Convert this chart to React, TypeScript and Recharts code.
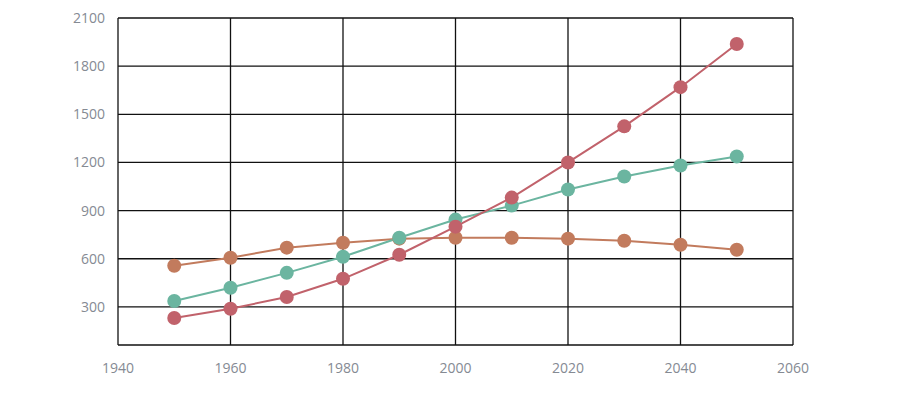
import { LineChart, Line, XAxis, YAxis, CartesianGrid } from "recharts";

const years = [1950, 1960, 1970, 1980, 1990, 2000, 2010, 2020, 2030, 2040, 2050];
const redSeries = [231, 288, 362, 475, 625, 800, 981, 1200, 1425, 1669, 1938];
const tealSeries = [337, 419, 512, 612, 731, 844, 931, 1031, 1112, 1181, 1237];
const orangeSeries = [556, 606, 669, 700, 725, 731, 731, 725, 712, 687, 656];
const xTicks = [1940, 1960, 1980, 2000, 2020, 2040, 2060];
const yTicks = [300, 600, 900, 1200, 1500, 1800, 2100];

const data = years.map((year, i) => ({
  year,
  red: redSeries[i],
  teal: tealSeries[i],
  orange: orangeSeries[i],
}));

const tickStyle = { fill: "#858a93", fontSize: 14, fontFamily: "'Open Sans', sans-serif" };

export default function App() {
  return (
    <div style={{ position: "absolute", left: 0, top: 0, width: 900, height: 399, background: "#fff" }}>
      <LineChart width={900} height={399} data={data} margin={{ top: 18, right: 107, left: 0, bottom: 0 }}>
        <CartesianGrid stroke="#111" strokeWidth={1.3} />
        <XAxis
          dataKey="year"
          type="number"
          domain={[1940, 2060]}
          ticks={xTicks}
          axisLine={false}
          tickLine={false}
          tickSize={0}
          tickMargin={18}
          height={54}
          tick={tickStyle}
        />
        <YAxis
          type="number"
          domain={[62.5, 2100]}
          ticks={yTicks}
          axisLine={false}
          tickLine={false}
          tickSize={0}
          tickMargin={13}
          width={118}
          tick={tickStyle}
          allowDataOverflow
        />
        <Line dataKey="orange" stroke="#c27b5d" strokeWidth={2} dot={{ r: 7, fill: "#c27b5d", stroke: "none" }} isAnimationActive={false} />
        <Line dataKey="teal" stroke="#6bb5a0" strokeWidth={2} dot={{ r: 7, fill: "#6bb5a0", stroke: "none" }} isAnimationActive={false} />
        <Line dataKey="red" stroke="#c1626b" strokeWidth={2} dot={{ r: 7, fill: "#c1626b", stroke: "none" }} isAnimationActive={false} />
      </LineChart>
    </div>
  );
}
